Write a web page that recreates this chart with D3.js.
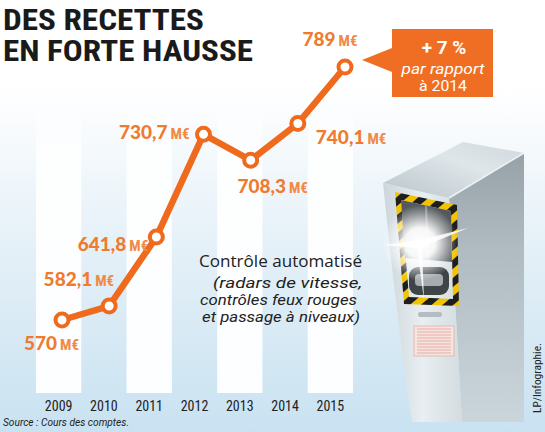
<!DOCTYPE html>
<html><head><meta charset="utf-8">
<script src="https://cdn.jsdelivr.net/npm/d3@7"></script>
<style>
html,body{margin:0;padding:0;background:#fff;}
svg{display:block;}
</style></head>
<body>
<svg id="chart" width="545" height="432"></svg>
<script>
// ---------- data ----------
const years = ["2009","2010","2011","2012","2013","2014","2015"];
const values = [570, 582.1, 641.8, 730.7, 708.3, 740.1, 789];
const unit = "M€";
const titleLines = ["DES RECETTES", "EN FORTE HAUSSE"];
const noteTitle = "Contrôle automatisé";
const noteLines = ["(radars de vitesse,", "contrôles feux rouges", "et passage à niveaux)"];
const calloutLines = ["par rapport", "à 2014"];
const sourceText = "Source : Cours des comptes.";
const creditText = "LP/Infographie.";

// ---------- setup ----------
const svg = d3.select("#chart");
const W = 545, H = 432;
const orange = "#f06a1e", labelOrange = "#ef7b2e";
const condensed = "'Roboto Condensed','DejaVu Sans Condensed','Liberation Sans Narrow',Roboto,sans-serif";
const light = "Roboto,'Open Sans',sans-serif";
const defs = svg.append("defs");

const bg = defs.append("linearGradient").attr("id","bg").attr("x1",0).attr("y1",0).attr("x2",0).attr("y2",1);
bg.append("stop").attr("offset","0%").attr("stop-color","#ffffff");
bg.append("stop").attr("offset","20%").attr("stop-color","#ffffff");
bg.append("stop").attr("offset","55%").attr("stop-color","#e6f1f8");
bg.append("stop").attr("offset","100%").attr("stop-color","#c9e2f1");
svg.append("rect").attr("width",W).attr("height",H).attr("fill","url(#bg)");

const sg = defs.append("linearGradient").attr("id","stripe").attr("x1",0).attr("y1",0).attr("x2",0).attr("y2",1);
sg.append("stop").attr("offset","0%").attr("stop-color","#ffffff").attr("stop-opacity",0);
sg.append("stop").attr("offset","25%").attr("stop-color","#ffffff").attr("stop-opacity",0.9);
sg.append("stop").attr("offset","100%").attr("stop-color","#ffffff").attr("stop-opacity",0.95);

// scales
const xBand = d3.scaleBand().domain(years).range([36, 353]).padding(0);
const x = d3.scalePoint().domain(years).range([62, 345]);
const y = d3.scaleLinear().domain([570, 789]).range([320, 67]);

// stripes for alternate years
svg.append("g").selectAll("rect").data(years.filter((d,i)=>i%2===0)).join("rect")
  .attr("x", d=>xBand(d)).attr("width", xBand.bandwidth())
  .attr("y", 80).attr("height", 313).attr("fill","url(#stripe)");

// ---------- radar illustration ----------
const rg = svg.append("g");
const topG = defs.append("linearGradient").attr("id","topg").attr("x1",0).attr("y1",1).attr("x2",1).attr("y2",0);
topG.append("stop").attr("offset","0%").attr("stop-color","#b9c4ca");
topG.append("stop").attr("offset","60%").attr("stop-color","#dfe6ea");
topG.append("stop").attr("offset","100%").attr("stop-color","#cfd8dd");
const sideG = defs.append("linearGradient").attr("id","sideg").attr("x1",0).attr("y1",0).attr("x2",0).attr("y2",1);
sideG.append("stop").attr("offset","0%").attr("stop-color","#96a1a8");
sideG.append("stop").attr("offset","35%").attr("stop-color","#b0bbc1");
sideG.append("stop").attr("offset","100%").attr("stop-color","#cad6dc");
const frontG = defs.append("linearGradient").attr("id","frontg").attr("x1",0).attr("y1",0).attr("x2",1).attr("y2",0);
frontG.append("stop").attr("offset","0%").attr("stop-color","#cdd6db");
frontG.append("stop").attr("offset","50%").attr("stop-color","#e8eef1");
frontG.append("stop").attr("offset","100%").attr("stop-color","#d3dce0");
const flashG = defs.append("radialGradient").attr("id","flash");
flashG.append("stop").attr("offset","0%").attr("stop-color","#ffffff").attr("stop-opacity",1);
flashG.append("stop").attr("offset","40%").attr("stop-color","#ffffff").attr("stop-opacity",0.95);
flashG.append("stop").attr("offset","100%").attr("stop-color","#ffffff").attr("stop-opacity",0);
const pat = defs.append("pattern").attr("id","hazard").attr("patternUnits","userSpaceOnUse")
  .attr("width",14).attr("height",14).attr("patternTransform","rotate(-40)");
pat.append("rect").attr("width",14).attr("height",14).attr("fill","#f2c300");
pat.append("rect").attr("width",14).attr("height",7).attr("fill","#1e1e1e");

rg.append("path").attr("d","M449,198 L524,153 L524,422 L462,422 Z").attr("fill","url(#sideg)");
rg.append("path").attr("d","M383,183 L449,198 L462,422 L412,422 Q398,330 383,183 Z").attr("fill","url(#frontg)");
rg.append("path").attr("d","M383,183 L463,142 L524,153 L449,198 Z").attr("fill","url(#topg)");
rg.append("path").attr("d","M449,198 L524,153").attr("stroke","#eef2f4").attr("stroke-width",1.5);
// hazard frame
rg.append("path").attr("fill","url(#hazard)").attr("fill-rule","evenodd")
  .attr("d","M395,192 L457,205 L459,306 L404,304 Z M401,200 L451,211 L453,299 L409,297 Z");
// dark windows
rg.append("path").attr("d","M401,200 L451,211 L452,262 L405,258 Z").attr("fill","#53595d");
rg.append("path").attr("d","M426,205 L428,260").attr("stroke","#8a9095").attr("stroke-width",2);
rg.append("rect").attr("x",409).attr("y",267).attr("width",40).attr("height",28).attr("rx",9).attr("fill","#3f4447");
rg.append("rect").attr("x",415).attr("y",274).attr("width",28).attr("height",12).attr("rx",4).attr("fill","#a6adb1");
rg.append("rect").attr("x",418).attr("y",312).attr("width",24).attr("height",5).attr("rx",2).attr("fill","#b5bdc2");
// grill
rg.append("rect").attr("x",414).attr("y",326).attr("width",40).attr("height",30).attr("fill","#f6e4e0").attr("stroke","#e3b9b2");
rg.append("g").selectAll("line").data(d3.range(9)).join("line")
  .attr("x1",417).attr("x2",451).attr("y1",d=>329+d*3).attr("y2",d=>329+d*3)
  .attr("stroke","#e39f96").attr("stroke-width",0.8);
// flash
rg.append("circle").attr("cx",420).attr("cy",243).attr("r",38).attr("fill","url(#flash)");
rg.append("path").attr("d","M383,245 L420,240 L468,228 L422,247 L424,300 L417,248 Z").attr("fill","#ffffff").attr("opacity",0.85);

// ---------- title ----------
svg.append("g").selectAll("text").data(titleLines).join("text")
  .attr("x",3).attr("y",(d,i)=>30+i*31)
  .attr("font-family",condensed)
  .attr("font-weight","bold").attr("font-size",29).attr("fill","#1a1a1a")
  .attr("textLength",(d,i)=>i===0?201:250).attr("lengthAdjust","spacingAndGlyphs")
  .text(d=>d);

// ---------- line ----------
const pts = years.map((yr,i)=>({yr, v: values[i]}));
svg.append("path").datum(pts)
  .attr("d", d3.line().x(d=>x(d.yr)).y(d=>y(d.v)))
  .attr("fill","none").attr("stroke",orange).attr("stroke-width",6.5)
  .attr("stroke-linejoin","round").attr("stroke-linecap","round");
svg.append("g").selectAll("circle").data(pts).join("circle")
  .attr("cx",d=>x(d.yr)).attr("cy",d=>y(d.v)).attr("r",6.5)
  .attr("fill","#fff").attr("stroke",orange).attr("stroke-width",4);

// ---------- value labels ----------
const fmt = v => Number.isInteger(v) ? String(v) : v.toFixed(1).replace(".", ",");
const place = [
  {dx:17, dy:30, a:"end"},
  {dx:5, dy:-20, a:"end"},
  {dx:-8, dy:14, a:"end"},
  {dx:-14, dy:5, a:"end"},
  {dx:22, dy:33, a:"middle"},
  {dx:18, dy:21, a:"start"},
  {dx:-15, dy:-21, a:"middle"}
];
const lab = svg.append("g").selectAll("text").data(pts).join("text")
  .attr("x",(d,i)=>x(d.yr)+place[i].dx).attr("y",(d,i)=>y(d.v)+place[i].dy)
  .attr("text-anchor",(d,i)=>place[i].a)
  .attr("font-family","Lato,'Open Sans',sans-serif").attr("fill",labelOrange);
lab.append("tspan").attr("font-weight",900).attr("font-size",19).text(d=>fmt(d.v));
lab.append("tspan").attr("font-family",condensed).attr("font-weight","bold")
  .attr("font-size",15).attr("dx",3).attr("fill","#f08a45").text(unit);

// ---------- callout ----------
const last = pts[pts.length-1], prev = pts[pts.length-2];
const pct = Math.round((last.v/prev.v - 1)*100);
const cg = svg.append("g");
cg.append("path").attr("d","M392,29 L493,29 L493,97 L392,97 L392,72 L362,60 L392,48 Z").attr("fill","#ef6e23");
cg.append("text").attr("x",444).attr("y",54).attr("text-anchor","middle")
  .attr("font-family","Roboto,'Open Sans',sans-serif").attr("font-weight","bold").attr("font-size",19)
  .attr("fill","#fff").text("+ " + pct + " %");
cg.selectAll("text.c").data(calloutLines).join("text").attr("class","c")
  .attr("x",443).attr("y",(d,i)=>74+i*17).attr("text-anchor","middle")
  .attr("font-family",light).attr("font-style",(d,i)=>i===0?"italic":"normal")
  .attr("font-size",15.5).attr("fill","#fff")
  .attr("textLength",(d,i)=>i===0?83:48).attr("lengthAdjust","spacingAndGlyphs").text(d=>d);

// ---------- note ----------
svg.append("text").attr("x",362).attr("y",267).attr("text-anchor","end")
  .attr("font-family","'Open Sans','Noto Sans',sans-serif").attr("font-size",16).attr("fill","#222")
  .attr("textLength",163).attr("lengthAdjust","spacingAndGlyphs").text(noteTitle);
const noteW = [149,157,158];
svg.append("g").selectAll("text").data(noteLines).join("text")
  .attr("x",(d,i)=>[362,357,360][i]).attr("y",(d,i)=>288+i*17).attr("text-anchor","end")
  .attr("font-family",light).attr("font-style","italic")
  .attr("font-size",14.5).attr("fill","#222")
  .attr("textLength",(d,i)=>noteW[i]).attr("lengthAdjust","spacingAndGlyphs").text(d=>d);

// ---------- year axis ----------
svg.append("g").selectAll("text").data(years).join("text")
  .attr("x",d=>xBand(d)+xBand.bandwidth()/2).attr("y",411).attr("text-anchor","middle")
  .attr("font-family",condensed).attr("font-size",14).attr("fill","#222")
  .text(d=>d);

// ---------- source & credit ----------
svg.append("text").attr("x",3).attr("y",426)
  .attr("font-family",light).attr("font-style","italic")
  .attr("font-size",11.5).attr("fill","#222")
  .attr("textLength",126).attr("lengthAdjust","spacingAndGlyphs").text(sourceText);
svg.append("text").attr("transform","translate(541,378) rotate(-90)").attr("text-anchor","middle")
  .attr("font-family",condensed)
  .attr("font-size",11.5).attr("fill","#222")
  .attr("textLength",70).attr("lengthAdjust","spacingAndGlyphs").text(creditText);
</script>
</body></html>
